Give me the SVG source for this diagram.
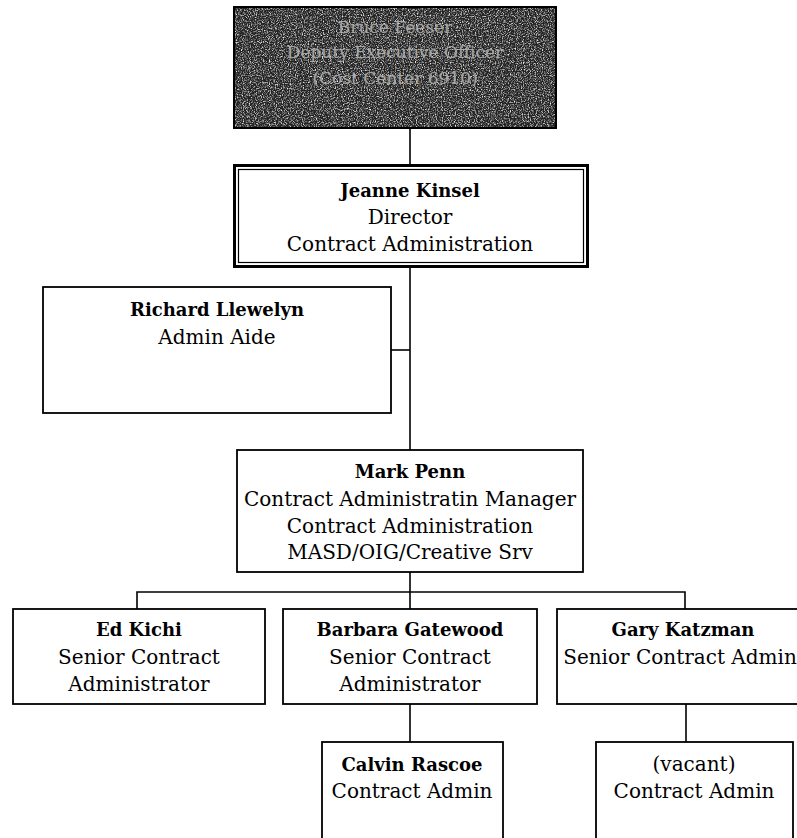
<svg xmlns="http://www.w3.org/2000/svg" width="797" height="838" viewBox="0 0 797 838">
<defs>
<style>
.box{fill:#fff;stroke:#000;stroke-width:1.8}
.ln{fill:none;stroke:#000;stroke-width:1.6}
text{font-family:"DejaVu Serif","Liberation Serif",serif;font-size:20px;fill:#000;text-anchor:middle}
.b{font-weight:bold;font-size:18px}
.top{fill:#a8a8a8;font-size:17px}
</style>
<filter id="noise" x="0" y="0" width="100%" height="100%">
<feTurbulence type="fractalNoise" baseFrequency="0.85" numOctaves="2" seed="4"/>
<feColorMatrix type="matrix" values="0 0 0 0 0.85 0 0 0 0 0.85 0 0 0 0 0.85 2.6 0 0 0 -1.15"/>
</filter>
</defs>
<g id="connectors">
<path class="ln" d="M410 128V164"/>
<path class="ln" d="M410 268V450"/>
<path class="ln" d="M391 350H410"/>
<path class="ln" d="M410 572V592"/>
<path class="ln" d="M137 609V592H685V609"/>
<path class="ln" d="M410 592V609"/>
<path class="ln" d="M410 704V742"/>
<path class="ln" d="M686 704V742"/>
</g>
<g id="top-node">
<rect x="234" y="7" width="322" height="121" fill="#222" stroke="#000" stroke-width="2"/>
<rect x="235" y="8" width="320" height="119" fill="#fff" filter="url(#noise)"/>
<text class="top" x="395" y="33">Bruce Feeser</text>
<text class="top" x="395" y="58">Deputy Executive Officer</text>
<text class="top" x="395" y="84">(Cost Center 6910)</text>
</g>
<g id="jeanne">
<rect x="234.5" y="165.5" width="353" height="101" fill="#fff" stroke="#000" stroke-width="3"/>
<rect x="238.5" y="169.5" width="345" height="93" fill="none" stroke="#000" stroke-width="1.2"/>
<text class="b" x="410" y="197">Jeanne Kinsel</text>
<text x="410" y="224">Director</text>
<text x="410" y="251">Contract Administration</text>
</g>
<g id="richard">
<rect class="box" x="43" y="287" width="348" height="126"/>
<text class="b" x="217" y="316">Richard Llewelyn</text>
<text x="217" y="344">Admin Aide</text>
</g>
<g id="mark">
<rect class="box" x="237" y="450" width="346" height="122"/>
<text class="b" x="410" y="478">Mark Penn</text>
<text x="410" y="506">Contract Administratin Manager</text>
<text x="410" y="533">Contract Administration</text>
<text x="410" y="559">MASD/OIG/Creative Srv</text>
</g>
<g id="ed">
<rect class="box" x="13" y="609" width="252" height="95"/>
<text class="b" x="139" y="636">Ed Kichi</text>
<text x="139" y="664">Senior Contract</text>
<text x="139" y="691">Administrator</text>
</g>
<g id="barbara">
<rect class="box" x="283" y="609" width="254" height="95"/>
<text class="b" x="410" y="636">Barbara Gatewood</text>
<text x="410" y="664">Senior Contract</text>
<text x="410" y="691">Administrator</text>
</g>
<g id="gary">
<rect class="box" x="557" y="609" width="256" height="95"/>
<text class="b" x="683" y="636">Gary Katzman</text>
<text x="680" y="664">Senior Contract Admin</text>
</g>
<g id="calvin">
<rect class="box" x="322" y="742" width="181" height="100"/>
<text class="b" x="412" y="771">Calvin Rascoe</text>
<text x="412" y="798">Contract Admin</text>
</g>
<g id="vacant">
<rect class="box" x="596" y="742" width="197" height="100"/>
<text x="694" y="771">(vacant)</text>
<text x="694" y="798">Contract Admin</text>
</g>
</svg>
